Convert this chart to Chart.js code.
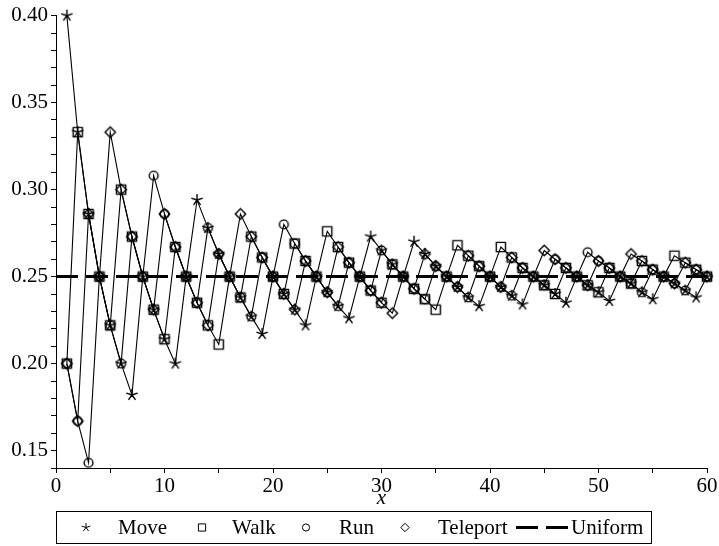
<!DOCTYPE html>
<html>
<head>
<meta charset="utf-8">
<script src="https://cdn.jsdelivr.net/npm/chart.js@4.4.0/dist/chart.umd.min.js"></script>
<style>
html,body{margin:0;padding:0;background:#fff;}
#wrap{width:719px;height:546px;position:relative;}
</style>
</head>
<body>
<div id="wrap"><canvas id="c" width="719" height="546"></canvas></div>
<script>
// ---- data ----
const xValues = [1,2,3,4,5,6,7,8,9,10,11,12,13,14,15,16,17,18,19,20,21,22,23,24,25,26,27,28,29,30,
                 31,32,33,34,35,36,37,38,39,40,41,42,43,44,45,46,47,48,49,50,51,52,53,54,55,56,57,58,59,60];
const moveValues = [.400,.333,.286,.25, .222,.200,.182,.25, .231,.214,.200,.25, .294,.278,.263,.25,
                    .238,.227,.217,.25, .240,.231,.222,.25, .241,.233,.226,.25, .273,.265,.257,.25,
                    .270,.263,.256,.25, .244,.238,.233,.25, .244,.239,.234,.25, .245,.240,.235,.25,
                    .245,.241,.236,.25, .246,.241,.237,.25, .246,.242,.238,.25];
const walkValues = [.200,.333,.286,.25, .222,.300,.273,.25, .231,.214,.267,.25, .235,.222,.211,.25,
                    .238,.273,.261,.25, .240,.269,.259,.25, .276,.267,.258,.25, .242,.235,.257,.25,
                    .243,.237,.231,.25, .268,.262,.256,.25, .267,.261,.255,.25, .245,.240,.255,.25,
                    .245,.241,.255,.25, .246,.259,.254,.25, .262,.258,.254,.25];
const runValues = [.200,.167,.143,.25, .222,.200,.273,.25, .308,.286,.267,.25, .235,.278,.263,.25,
                   .238,.227,.261,.25, .280,.269,.259,.25, .241,.233,.258,.25, .242,.265,.257,.25,
                   .243,.237,.256,.25, .244,.238,.256,.25, .244,.239,.255,.25, .245,.260,.255,.25,
                   .264,.259,.255,.25, .246,.241,.254,.25, .246,.242,.254,.25];
const teleportValues = [.200,.167,.286,.25, .333,.300,.273,.25, .231,.286,.267,.25, .235,.222,.263,.25,
                        .286,.273,.261,.25, .240,.231,.259,.25, .241,.267,.258,.25, .242,.235,.229,.25,
                        .243,.263,.256,.25, .244,.262,.256,.25, .244,.261,.255,.25, .265,.260,.255,.25,
                        .245,.259,.255,.25, .263,.259,.254,.25, .246,.258,.254,.25];
const uniformX = [0, 60];
const uniformValues = [0.25, 0.25];
const seriesNames = ['Move','Walk','Run','Teleport','Uniform'];
const xTickLabels = ['0','10','20','30','40','50','60'];
const yTickLabels = ['0.15','0.20','0.25','0.30','0.35','0.40'];
const xTitle = 'x';

// ---- marker drawing ----
function drawShape(g, kind, cx, cy, s) {
  g.beginPath();
  if (kind === 'star') {
    for (let k = 0; k < 5; k++) {
      const ang = -Math.PI/2 + k*2*Math.PI/5;
      g.moveTo(cx, cy);
      g.lineTo(cx + s*Math.cos(ang), cy + s*Math.sin(ang));
    }
  } else if (kind === 'square') {
    g.rect(cx - s, cy - s, 2*s, 2*s);
  } else if (kind === 'circle') {
    g.arc(cx, cy, s, 0, Math.PI*2);
  } else if (kind === 'diamond') {
    g.moveTo(cx, cy - s); g.lineTo(cx + s, cy); g.lineTo(cx, cy + s); g.lineTo(cx - s, cy); g.closePath();
  }
  g.stroke();
}
function makeMarker(kind, s, lw) {
  const c = document.createElement('canvas');
  const n = Math.ceil(2*s + 4);
  c.width = n; c.height = n;
  const g = c.getContext('2d');
  g.strokeStyle = '#000'; g.lineWidth = lw;
  drawShape(g, kind, n/2, n/2, s);
  return c;
}
const markerKinds = ['star','square','circle','diamond'];
const markerSizes = {star:6, square:4.6, circle:4.4, diamond:5.2};
const markers = markerKinds.map(k => makeMarker(k, markerSizes[k], 1.4));

function pts(xs, ys) { return xs.map((x, i) => ({x: x, y: ys[i]})); }

const seriesValues = [moveValues, walkValues, runValues, teleportValues];
const datasets = seriesValues.map((vals, i) => ({
  label: seriesNames[i],
  data: pts(xValues, vals),
  borderColor: '#000',
  borderWidth: 1.1,
  backgroundColor: 'rgba(0,0,0,0)',
  pointStyle: markers[i],
  pointRadius: 5,
  showLine: true,
  tension: 0,
  clip: false
}));
datasets.push({
  label: seriesNames[4],
  data: pts(uniformX, uniformValues),
  borderColor: '#000',
  borderWidth: 3,
  borderDash: [22, 8],
  pointRadius: 0,
  showLine: true,
  clip: false
});

const FONT = '"Liberation Serif", "Times New Roman", serif';

const overlay = {
  id: 'overlay',
  afterDraw(chart) {
    const ctx = chart.ctx, a = chart.chartArea;
    ctx.save();
    ctx.fillStyle = '#000';
    ctx.strokeStyle = '#000';
    ctx.font = 'italic 21px ' + FONT;
    ctx.textAlign = 'center';
    ctx.textBaseline = 'middle';
    ctx.fillText(xTitle, (a.left + a.right)/2, 498);
    // legend
    const top = 511.5, h = 32, cy = top + h/2;
    ctx.lineWidth = 1;
    ctx.strokeRect(56.5, top, 595, h);
    const mx = [86, 202, 306, 405];
    const tx = [118, 232, 339, 438];
    const lsz = {star:4.5, square:3.6, circle:3.6, diamond:4.2};
    ctx.font = '21px ' + FONT;
    ctx.textAlign = 'left';
    for (let i = 0; i < 4; i++) {
      ctx.lineWidth = 1;
      drawShape(ctx, markerKinds[i], mx[i], cy, lsz[markerKinds[i]]);
      ctx.fillText(seriesNames[i], tx[i], cy + 1);
    }
    ctx.lineWidth = 3;
    ctx.setLineDash([22, 8]);
    ctx.beginPath(); ctx.moveTo(516, cy); ctx.lineTo(569, cy); ctx.stroke();
    ctx.setLineDash([]);
    ctx.fillText(seriesNames[4], 571, cy + 1);
    ctx.restore();
  }
};

new Chart(document.getElementById('c'), {
  type: 'scatter',
  data: { datasets: datasets },
  options: {
    responsive: false,
    animation: false,
    devicePixelRatio: 1,
    events: [],
    layout: { padding: { top: 13, right: 12, left: 0, bottom: 0 } },
    plugins: { legend: { display: false }, tooltip: { enabled: false } },
    scales: {
      x: {
        type: 'linear', min: 0, max: 60,
        ticks: {
          stepSize: 5,
          autoSkip: false,
          color: '#000',
          font: { family: FONT, size: 21 },
          padding: 1,
          maxRotation: 0,
          callback: v => { const s = String(v); return xTickLabels.includes(s) ? s : ''; }
        },
        grid: { drawOnChartArea: false, drawTicks: true, tickLength: 5, color: '#000', lineWidth: 1 },
        border: { display: true, color: '#000', width: 1 },
        afterFit: s => { s.height = 78; }
      },
      y: {
        type: 'linear', min: 0.14, max: 0.40,
        ticks: {
          stepSize: 0.01,
          autoSkip: false,
          color: '#000',
          font: { family: FONT, size: 21 },
          padding: 3,
          callback: v => { const s = (Math.round(v*100)/100).toFixed(2); return yTickLabels.includes(s) ? s : ''; }
        },
        grid: { drawOnChartArea: false, drawTicks: true, tickLength: 5, color: '#000', lineWidth: 1 },
        border: { display: true, color: '#000', width: 1 },
        afterFit: s => { s.width = 56; }
      }
    }
  },
  plugins: [overlay]
});
</script>
</body>
</html>
